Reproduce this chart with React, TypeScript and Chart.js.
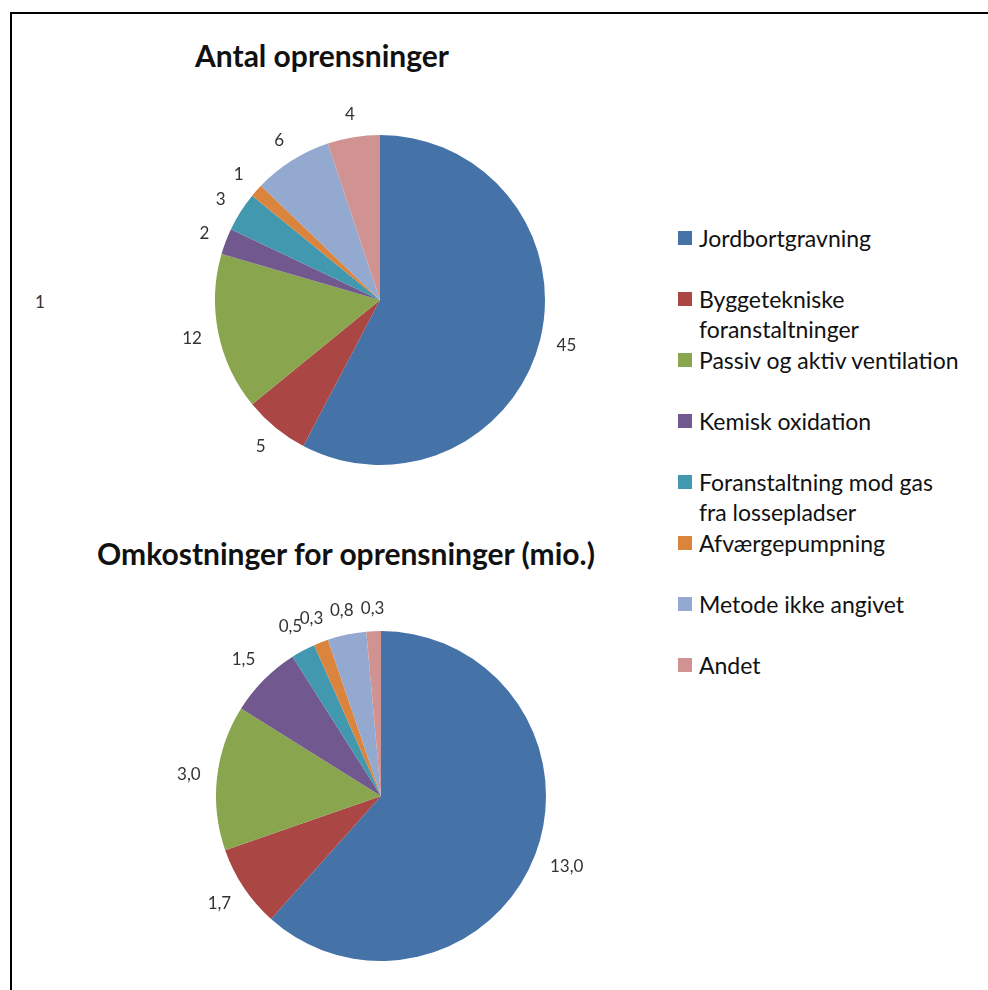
import React, { useEffect, useRef } from "react";
import { Chart, registerables } from "chart.js";

Chart.register(...registerables);

const categories = [
  "Jordbortgravning",
  "Byggetekniske foranstaltninger",
  "Passiv og aktiv ventilation",
  "Kemisk oxidation",
  "Foranstaltning mod gas fra lossepladser",
  "Afværgepumpning",
  "Metode ikke angivet",
  "Andet",
];
const antalValues = [45, 5, 12, 2, 3, 1, 6, 4];
const omkostValues = [13.0, 1.7, 3.0, 1.5, 0.5, 0.3, 0.8, 0.3];
const sliceColors = [
  "#4572A7",
  "#AA4643",
  "#89A54E",
  "#71588F",
  "#4198AF",
  "#DB843D",
  "#93A9CF",
  "#D19392",
];
const titleTop = "Antal oprensninger";
const titleBottom = "Omkostninger for oprensninger (mio.)";

const FONT = "Lato, 'Open Sans', sans-serif";

const outsideLabels = {
  id: "outsideLabels",
  afterDatasetsDraw(chart: any, _args: any, opts: any) {
    const ctx = chart.ctx;
    const meta = chart.getDatasetMeta(0);
    const ds = chart.data.datasets[0];
    const fs = opts.size || 17;
    ctx.save();
    ctx.font = `${fs}px ${FONT}`;
    ctx.fillStyle = "#333333";
    ctx.textAlign = "center";
    ctx.textBaseline = "middle";
    meta.data.forEach((arc: any, i: number) => {
      const p = arc.getProps(["x", "y", "startAngle", "endAngle", "outerRadius"], true);
      const mid = (p.startAngle + p.endAngle) / 2;
      const text = opts.format(ds.data[i]);
      const w = ctx.measureText(text).width;
      const h = fs * 0.72;
      const dx = Math.cos(mid);
      const dy = Math.sin(mid);
      const ext = Math.abs(dx) * w / 2 + Math.abs(dy) * h / 2;
      const d = p.outerRadius + 16 + ext;
      ctx.fillText(text, p.x + dx * d, p.y + dy * d);
    });
    ctx.restore();
  },
};

function PieChart(props: {
  values: number[];
  format: (v: number) => string;
  left: number;
  top: number;
  width: number;
  height: number;
  padding: any;
}) {
  const ref = useRef<HTMLCanvasElement | null>(null);
  useEffect(() => {
    if (!ref.current) return;
    const chart = new Chart(ref.current, {
      type: "pie",
      data: {
        labels: categories,
        datasets: [
          {
            data: props.values,
            backgroundColor: sliceColors,
            borderWidth: 0,
          },
        ],
      },
      options: {
        responsive: false,
        animation: false,
        devicePixelRatio: 1,
        layout: { padding: props.padding },
        plugins: {
          legend: { display: false },
          tooltip: { enabled: false },
          title: { display: false },
          outsideLabels: { format: props.format, size: 17 },
        } as any,
      },
      plugins: [outsideLabels],
    });
    return () => chart.destroy();
  }, []);
  return (
    <canvas
      ref={ref}
      width={props.width}
      height={props.height}
      style={{
        position: "absolute",
        left: props.left,
        top: props.top,
        width: props.width,
        height: props.height,
      }}
    />
  );
}

export default function App() {
  return (
    <div
      style={{
        position: "absolute",
        left: 0,
        top: 0,
        width: 988,
        height: 990,
        overflow: "hidden",
        background: "#fff",
        fontFamily: FONT,
      }}
    >
      {/* frame */}
      <div style={{ position: "absolute", left: 10, top: 12, width: 978, height: 2, background: "#000" }} />
      <div style={{ position: "absolute", left: 10, top: 12, width: 2, height: 978, background: "#000" }} />

      {/* titles */}
      <div
        style={{
          position: "absolute",
          left: 22,
          top: 38,
          width: 600,
          lineHeight: "34px",
          textAlign: "center",
          fontWeight: 700,
          fontSize: 30,
          color: "#111",
        }}
      >
        {titleTop}
      </div>
      <div
        style={{
          position: "absolute",
          left: 26,
          top: 536,
          width: 640,
          lineHeight: "34px",
          textAlign: "center",
          fontWeight: 700,
          fontSize: 30,
          color: "#111",
        }}
      >
        {titleBottom}
      </div>

      {/* clipped stray label */}
      <div
        style={{
          position: "absolute",
          left: 35,
          top: 290,
          width: 10,
          overflow: "hidden",
          whiteSpace: "nowrap",
          fontSize: 17,
          lineHeight: "24px",
          color: "#333",
        }}
      >
        {String(antalValues[2])}
      </div>

      <PieChart
        values={antalValues}
        format={(v) => String(v)}
        left={165}
        top={85}
        width={430}
        height={430}
        padding={50}
      />
      <PieChart
        values={omkostValues}
        format={(v) => v.toFixed(1).replace(".", ",")}
        left={166}
        top={581}
        width={430}
        height={410}
        padding={{ top: 50, left: 50, right: 50, bottom: 30 }}
      />

      {/* legend */}
      <div style={{ position: "absolute", left: 678, top: 223 }}>
        {categories.map((c, i) => (
          <div key={c} style={{ position: "relative", height: 61, width: 300 }}>
            <div
              style={{
                position: "absolute",
                left: 0,
                top: 8,
                width: 14,
                height: 14,
                background: sliceColors[i],
              }}
            />
            <div
              style={{
                position: "absolute",
                left: 21,
                top: 0,
                width: 266,
                fontSize: 23,
                lineHeight: "30px",
                color: "#111",
              }}
            >
              {c}
            </div>
          </div>
        ))}
      </div>
    </div>
  );
}
